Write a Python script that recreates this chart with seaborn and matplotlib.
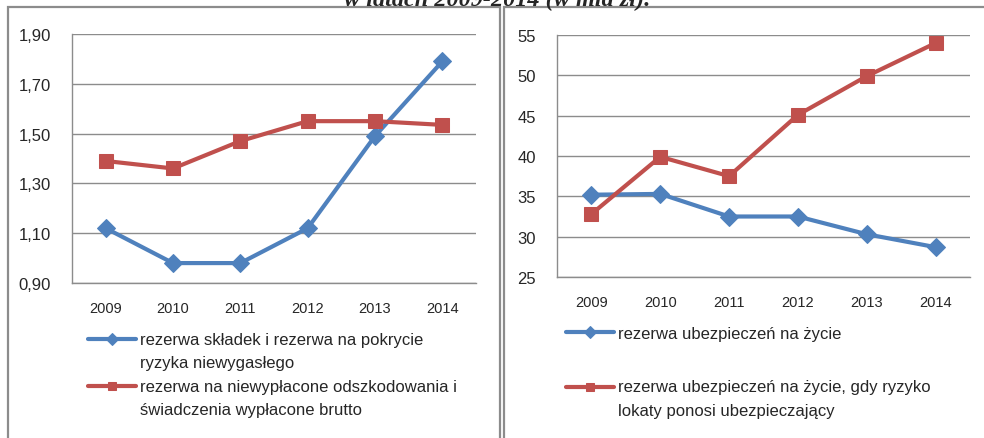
import matplotlib
matplotlib.use("Agg")
import matplotlib.pyplot as plt
import seaborn as sns
import pandas as pd
from matplotlib.patches import Rectangle
from matplotlib.ticker import FixedLocator, FuncFormatter
from matplotlib.legend_handler import HandlerLine2D

years = ["2009", "2010", "2011", "2012", "2013", "2014"]
left_blue = [1.12, 0.98, 0.98, 1.12, 1.49, 1.79]
left_red = [1.39, 1.36, 1.47, 1.55, 1.55, 1.535]
right_blue = [35.2, 35.3, 32.5, 32.5, 30.3, 28.7]
right_red = [32.8, 39.9, 37.5, 45.1, 49.9, 54.0]
left_labels = ["rezerwa składek i rezerwa na pokrycie\nryzyka niewygasłego",
               "rezerwa na niewypłacone odszkodowania i\nświadczenia wypłacone brutto"]
right_labels = ["rezerwa ubezpieczeń na życie",
                "rezerwa ubezpieczeń na życie, gdy ryzyko\nlokaty ponosi ubezpieczający"]
left_yticks = [0.90, 1.10, 1.30, 1.50, 1.70, 1.90]
right_yticks = [25, 30, 35, 40, 45, 50, 55]
title = "w latach 2009-2014 (w mld zł)."

sns.set_style("white")
plt.rcParams['font.family'] = ['Liberation Sans', 'DejaVu Sans']

BLUE = "#4F81BD"
RED = "#C0504D"
GRID = "#8C8C8C"
TXT = "#262626"
W, H = 984, 439

fig = plt.figure(figsize=(9.84, 4.39), dpi=100)

def rect(x0, x1, lw):
    fig.patches.append(Rectangle((x0 / W, -0.05), (x1 - x0) / W, 1 - 8 / H + 0.05,
                                 transform=fig.transFigure, fill=False,
                                 edgecolor="#8C8C8C", linewidth=lw))

rect(8, 500, 1.6)
rect(504, 1100, 1.6)

fig.text(497 / W, 1 - 6 / H, title, ha="center", va="baseline", fontsize=17.5, fontweight="bold",
         fontstyle="italic", family=["Liberation Serif", "DejaVu Serif"])

axL = fig.add_axes([72 / W, 1 - 284 / H, 404 / W, 249 / H])
axR = fig.add_axes([557 / W, 1 - 278 / H, 413 / W, 242 / H])

def style(ax, yticks, fmt):
    n = len(years)
    ax.set_xlim(-0.5, n - 0.5)
    ax.set_ylim(yticks[0], yticks[-1])
    ax.yaxis.set_major_locator(FixedLocator(yticks))
    ax.yaxis.set_major_formatter(FuncFormatter(fmt))
    ax.set_xticks(range(n))
    ax.set_xticklabels(years)
    ax.xaxis.set_minor_locator(FixedLocator([i - 0.5 for i in range(n + 1)]))
    ax.tick_params(axis="x", which="major", length=0, pad=13, labelsize=10.5, labelcolor=TXT)
    ax.tick_params(axis="x", which="minor", length=6, color=GRID, width=1, direction="out")
    ax.tick_params(axis="y", length=5, color=GRID, width=1, labelsize=12, labelcolor=TXT, pad=10)
    ax.grid(axis="y", color=GRID, linewidth=1)
    for s in ["top", "right"]:
        ax.spines[s].set_visible(False)
    for s in ["left", "bottom"]:
        ax.spines[s].set_color(GRID)
        ax.spines[s].set_linewidth(1)
    ax.set_xlabel("")
    ax.set_ylabel("")

pos = list(range(len(years)))
dfL = pd.DataFrame({"x": pos, "b": left_blue, "r": left_red})
dfR = pd.DataFrame({"x": pos, "b": right_blue, "r": right_red})

for ax, df, labels in [(axL, dfL, left_labels), (axR, dfR, right_labels)]:
    sns.lineplot(data=df, x="x", y="b", ax=ax, color=BLUE, linewidth=3, marker="D",
                 markersize=9, markeredgecolor=BLUE, label=labels[0], zorder=3)
    sns.lineplot(data=df, x="x", y="r", ax=ax, color=RED, linewidth=3, marker="s",
                 markersize=10, markeredgecolor=RED, label=labels[1], zorder=3)

style(axL, left_yticks, lambda v, p: f"{v:.2f}".replace(".", ","))
style(axR, right_yticks, lambda v, p: f"{int(v)}")


class TopLineHandler(HandlerLine2D):
    """Place the legend handle beside the first line of a multi-line label."""
    def __init__(self, shift, **kw):
        super().__init__(**kw)
        self.shift = shift

    def create_artists(self, legend, orig_handle, xdescent, ydescent, width, height, fontsize, trans):
        arts = super().create_artists(legend, orig_handle, xdescent, ydescent, width, height, fontsize, trans)
        for a in arts:
            a.set_ydata([y + self.shift for y in a.get_ydata()])
        return arts


def make_legend(ax, anchor, spacing):
    handles, labels = ax.get_legend_handles_labels()
    hmap = {h: TopLineHandler(8.6 if "\n" in lab else 0.0) for h, lab in zip(handles, labels)}
    leg = ax.legend(handles, labels, loc="upper left", bbox_to_anchor=anchor,
                    bbox_transform=fig.transFigure, frameon=False, fontsize=12,
                    handlelength=2.85, handletextpad=0.25, labelspacing=spacing,
                    borderpad=0, borderaxespad=0, labelcolor=TXT, handler_map=hmap)
    for t in leg.get_texts():
        t.set_linespacing(1.7)
    for h in leg.legend_handles:
        h.set_markersize(6)
    return leg


make_legend(axL, (88 / W, 1 - 333 / H), 0.5)
make_legend(axR, (566 / W, 1 - 327 / H), 2.3)

fig.savefig("out.png", dpi=100)
